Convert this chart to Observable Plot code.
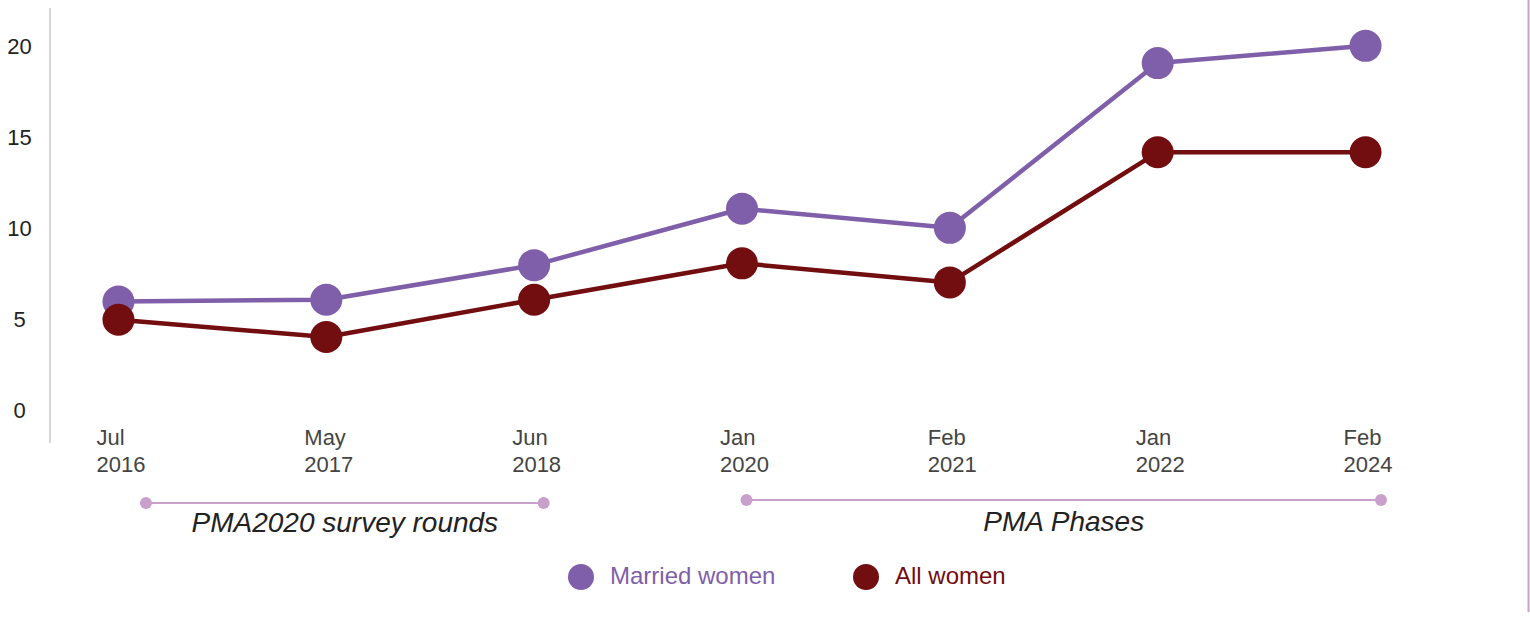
<!DOCTYPE html>
<html>
<head>
<meta charset="utf-8">
<script src="https://cdn.jsdelivr.net/npm/d3@7"></script>
<script src="https://cdn.jsdelivr.net/npm/@observablehq/plot@0.6"></script>
<style>
  html, body { margin: 0; padding: 0; background: #fff; }
  #chart svg { display: block; }
</style>
</head>
<body>
<div id="chart"></div>
<script>
const rounds = ["Jul\n2016", "May\n2017", "Jun\n2018", "Jan\n2020", "Feb\n2021", "Jan\n2022", "Feb\n2024"];
const marriedWomen = [6.0, 6.1, 8.0, 11.1, 10.05, 19.1, 20.05];
const allWomen = [5.0, 4.05, 6.1, 8.1, 7.05, 14.2, 14.2];
const seriesNames = ["Married women", "All women"];
const seriesColors = ["#7f5fa9", "#720d10"];
const yTicks = [0, 5, 10, 15, 20];
const groups = [
  {label: "PMA2020 survey rounds", from: "Jul\n2016", to: "Jun\n2018"},
  {label: "PMA Phases", from: "Jan\n2020", to: "Feb\n2024"}
];

const rows = [];
rounds.forEach((r, i) => {
  rows.push({round: r, series: seriesNames[0], value: marriedWomen[i]});
  rows.push({round: r, series: seriesNames[1], value: allWomen[i]});
});

const font = "'Liberation Sans', Arial, sans-serif";
const W = 1530, H = 618;

const plot = Plot.plot({
  width: W,
  height: H,
  marginLeft: 50,
  marginRight: 97,
  marginTop: 8,
  marginBottom: 175,
  style: {fontFamily: font, background: "#fff"},
  x: {domain: rounds, type: "point", padding: 0.327, round: false, label: null},
  y: {domain: [-1.8, 22.1], label: null},
  color: {domain: seriesNames, range: seriesColors},
  marks: [
    Plot.axisY({ticks: yTicks, tickSize: 0, tickPadding: 31, textAnchor: "middle", fontSize: 22, fill: "#222", label: null}),
    Plot.axisX({tickSize: 0, tickPadding: 0, dy: -17, dx: -22, textAnchor: "start", lineAnchor: "top", lineHeight: 1.2, fontSize: 22, fill: "#444", label: null}),
    Plot.line(rows, {x: "round", y: "value", z: "series", stroke: "series", strokeWidth: 4.5}),
    Plot.dot(rows, {x: "round", y: "value", fill: "series", r: 16})
  ]
});

const svg = d3.select(plot);
const xs = plot.scale("x");
const X = v => xs.apply(v);

// left axis rule
svg.append("line").attr("x1", 50).attr("x2", 50).attr("y1", 8).attr("y2", 443)
  .attr("stroke", "#d6d6d6").attr("stroke-width", 2);
// right border
svg.append("line").attr("x1", 1528.5).attr("x2", 1528.5).attr("y1", 0).attr("y2", 612)
  .attr("stroke", "#c9a0cb").attr("stroke-width", 2);

// group brackets
const bracketColor = "#c9a0cb";
const gOff = [[28, 10, 503, 522], [5, 16, 500, 521]];
groups.forEach((g, i) => {
  const [l, r, y, ty] = gOff[i];
  const x1 = X(g.from) + l, x2 = X(g.to) + r;
  svg.append("line").attr("x1", x1).attr("x2", x2).attr("y1", y).attr("y2", y)
    .attr("stroke", bracketColor).attr("stroke-width", 2);
  [x1, x2].forEach(x => svg.append("circle").attr("cx", x).attr("cy", y).attr("r", 6).attr("fill", bracketColor));
  svg.append("text").attr("x", (x1 + x2) / 2).attr("y", ty).attr("dy", "0.35em")
    .attr("text-anchor", "middle").attr("font-style", "italic").attr("font-size", 28)
    .attr("fill", "#222").attr("font-family", font).text(g.label);
});

// legend
const legX = [581, 866];
seriesNames.forEach((s, i) => {
  svg.append("circle").attr("cx", legX[i]).attr("cy", 577).attr("r", 13).attr("fill", seriesColors[i]);
  svg.append("text").attr("x", legX[i] + 29).attr("y", 576).attr("dy", "0.35em")
    .attr("text-anchor", "start")
    .attr("font-size", 24).attr("fill", seriesColors[i]).attr("font-family", font).text(s);
});

document.getElementById("chart").appendChild(plot);
</script>
</body>
</html>
